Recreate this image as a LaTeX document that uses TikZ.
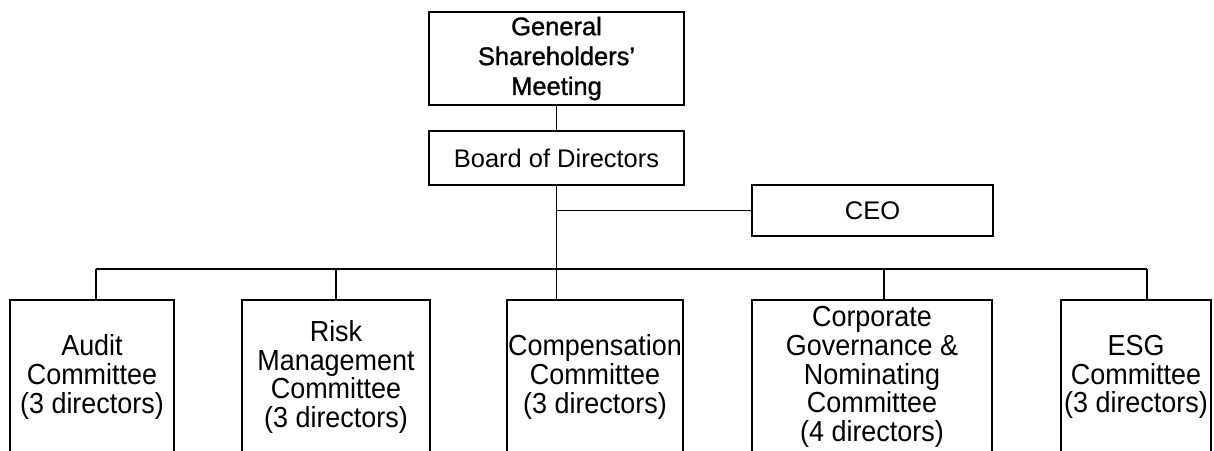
\documentclass[tikz,border=0pt]{standalone}
\usepackage{fontspec}
\setmainfont{Liberation Sans}
\newfontfamily\narrowfont{Liberation Sans}[FakeStretch=0.93]
\newfontfamily\heavyfont{Liberation Sans}[FakeBold=1.2]

\tikzset{
    unitbox/.style={draw, line width=1.1pt, inner sep=0pt, align=center,
        font=\fontsize{14.5}{17}\selectfont},
    cmtbox/.style={unitbox, minimum height=3.08cm,
        font=\narrowfont\fontsize{16.5}{16.4}\selectfont},
    link/.style={line width=1.1pt}
}

\begin{document}
\begin{tikzpicture}
    \useasboundingbox (0,0) rectangle (24.28,-9);
    \clip (0,0) rectangle (24.28,-9);
        %disegno vertice
        \node (gsm) at (11.13,-1.17)[unitbox, minimum width=5.1cm, minimum height=1.86cm,
            font=\heavyfont\fontsize{14.5}{17}\selectfont]{General\\Shareholders’\\Meeting};
        \node (board) at (11.13,-3.16)[unitbox, minimum width=5.1cm, minimum height=1.08cm]{Board of Directors};
        \node (ceo) at (17.45,-4.21)[unitbox, minimum width=4.82cm, minimum height=1.02cm]{CEO};
        %disegno comitati
        \node (audit) at (1.84,-7.54)[cmtbox, minimum width=3.28cm]{Audit\\Committee\\(3 directors)};
        \node (risk) at (6.72,-7.54)[cmtbox, minimum width=3.76cm]{Risk\\Management\\Committee\\(3 directors)};
        \node (comp) at (11.9,-7.54)[cmtbox, minimum width=3.52cm]{Compensation\\Committee\\(3 directors)};
        \node (govern) at (17.44,-7.54)[cmtbox, minimum width=4.8cm]{Corporate\\Governance \&\\Nominating\\Committee\\(4 directors)};
        \node (esg) at (22.72,-7.54)[cmtbox, minimum width=3.0cm]{ESG\\Committee\\(3 directors)};
        %punti di attacco
        \coordinate (dAudit) at (1.92,-5.38);
        \coordinate (dRisk) at (6.72,-5.38);
        \coordinate (dGovern) at (17.68,-5.38);
        \coordinate (dEsg) at (22.94,-5.38);
        %collegamenti
        \draw[link] (gsm) -- (board);
        \draw[link] (board.south) -- (board.south |- dAudit);
        \draw[link] (ceo.west) -- (ceo.west -| board.south);
        \draw[link] (dAudit) -- (dEsg);
        \draw[link] (dAudit) -- (dAudit |- audit.north);
        \draw[link] (dRisk) -- (dRisk |- risk.north);
        \draw[link] (board.south |- dAudit) -- (board.south |- comp.north);
        \draw[link] (dGovern) -- (dGovern |- govern.north);
        \draw[link] (dEsg) -- (dEsg |- esg.north);
\end{tikzpicture}
\end{document}
